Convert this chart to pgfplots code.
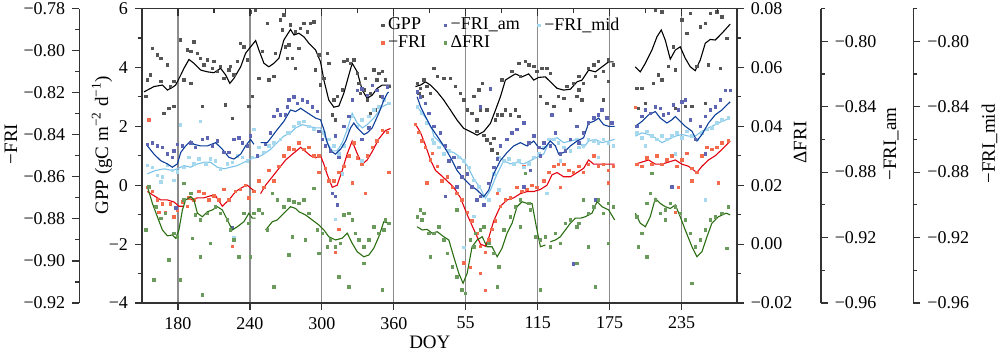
\documentclass[border=0pt]{standalone}
\usepackage{fontspec}
\setmainfont{Liberation Serif}
\usepackage{pgfplots}
\pgfplotsset{compat=1.18}
\definecolor{axc}{HTML}{333333}
\definecolor{gridc}{HTML}{8C8C8C}
\definecolor{gppdot}{HTML}{555555}
\definecolor{gppline}{HTML}{000000}
\definecolor{fridot}{HTML}{F26B4C}
\definecolor{friline}{HTML}{E3000F}
\definecolor{amdot}{HTML}{5E66B4}
\definecolor{amline}{HTML}{0D3E9A}
\definecolor{middot}{HTML}{A6D8EE}
\definecolor{midline}{HTML}{7CC3EA}
\definecolor{dfridot}{HTML}{6A9A5C}
\definecolor{dfriline}{HTML}{2A6E12}
\newcommand{\fs}{\fontsize{9}{10.5}\selectfont}
\newcommand{\fl}{\fontsize{9.5}{11}\selectfont}
\pgfplotsset{
  every axis/.append style={
    tick label style={font=\fs, color=black},
    label style={font=\fl},
    axis line style={color=axc, line width=0.8pt},
    every tick/.style={color=axc, line width=0.6pt},
    major tick length=3.5pt, minor tick length=2pt,
  },
  base/.style={width=297.35pt, height=147.25pt, scale only axis,
    xmin=150, xmax=646, at={(71pt,26pt)}, anchor=south west},
  dots/.style={only marks, mark=square*, mark size=0.62pt},
  lin/.style={line width=0.55pt, no marks, unbounded coords=jump},
  deco/.style={width=1pt, height=147.25pt, scale only axis, xmin=0, xmax=1,
    axis x line=none, tick align=outside},
}
\begin{document}
\begin{tikzpicture}
\path[use as bounding box] (0,0) rectangle (500pt,177.5pt);

% ---------- main GPP axis ----------
\begin{axis}[base,
  ymin=-4, ymax=6,
  axis x line*=bottom, axis y line*=left,
  tick align=outside,
  xtick={180,240,300,360,420,480,540,600},
  xticklabels={180,240,300,360,55,115,175,235},
  ytick={-4,-2,0,2,4,6}, yticklabels={−4,−2,0,2,4,6},
  minor ytick={-3,-1,1,3,5},
  xmajorgrids, major grid style={color=gridc, line width=0.6pt},
  xlabel={DOY},
  xlabel style={at={(axis description cs:0.484,-0.132)}, anchor=center},
  ylabel={GPP (gC m\textsuperscript{−2} d\textsuperscript{−1})},
  ylabel style={at={([xshift=-20pt]axis description cs:0,0.536)}, anchor=center},
  legend columns=3,
  legend cell align=left,
  legend style={at={(axis description cs:0.392,0.997)}, anchor=north west,
    draw=none, fill=none, font=\fs, row sep=-3pt,
    /tikz/every even column/.append style={column sep=7pt}},
  legend image code/.code={\draw[#1,only marks,mark=square*,mark size=0.62pt] plot coordinates {(0.06cm,0)};},
]
\addplot[dots, color=gppdot, forget plot] coordinates {
(153.1,3.01)(158.6,4.65)(162.8,4.42)(165.6,4.31)(154.5,3.57)(157.2,3.74)(165.6,3.52)(173.9,3.35)(171.1,4.08)(176.7,3.52)(176.7,2.67)(172.5,2.61)(168.3,2.44)(182.2,4.93)(187.8,4.59)(190.6,4.54)(193.3,4.87)(196.1,4.48)(198.9,4.31)(200.3,2.67)(185,3.57)(190.6,3.46)(201.7,4.08)(204.5,4.25)(208.6,3.97)(210,4.20)(212.8,3.86)(215.6,4.03)(218.3,3.63)(219.7,2.72)(222.5,3.91)(223.9,4.03)(226.7,3.74)(225.3,2.27)(229.4,4.20)(232.2,4.82)(235,4.70)(237.8,4.25)(239.2,2.67)(242,3.01)(240.6,5.89)(244.7,5.95)(247.5,3.63)(250.3,4.54)(254.5,5.50)(255.8,3.57)(260,3.69)(261.4,4.48)(265.6,5.61)(268.3,5.78)(269.7,4.70)(271.1,4.31)(267,5.27)
(273.9,5.44)(278.1,5.21)(282.2,5.33)(285,5.50)(287.8,5.21)(290.6,5.50)(293.4,5.55)(272.5,4.76)(280.9,4.65)(275.3,4.31)(278.1,3.97)(297.5,4.42)(294.8,3.91)(301.7,3.63)(304.5,4.48)(305.9,4.14)(298.9,3.40)(308.6,2.39)(310,2.89)(311.4,2.21)(312.8,3.01)(317,3.23)(318.4,4.20)(321.1,4.25)(323.9,4.14)(326.7,4.25)(329.5,3.80)(330.9,3.46)(332.3,3.12)(335,3.23)(336.4,3.63)(337.8,2.89)(340.6,3.12)(343.4,3.91)(346.1,3.57)(347.5,3.80)(350.3,3.86)(353.1,3.57)(355.9,3.35)(351.7,2.89)(340.6,2.44)(344.8,2.55)(348.9,3.01)
(379.5,3.46)(382.3,3.29)(385,3.57)(387.8,3.35)(383.6,3.01)(390.6,3.12)(380.9,3.12)
(393.4,3.97)(396.2,3.69)(401.7,3.63)(407.3,3.63)(411.4,3.35)(415.6,3.12)(418.4,2.89)(421.2,2.55)(425.3,2.44)(429.5,2.21)(432.3,2.55)(435,1.70)(437.8,1.54)(440.6,1.42)(443.4,1.59)(426.7,3.01)(430.9,3.23)(433.7,3.46)(437.8,2.55)(444.8,2.21)(446.2,2.38)(450.3,2.38)(453.1,2.55)(457.3,2.38)(461.4,2.55)(464.2,2.33)(450.3,3.57)(458.7,3.86)(464.2,4.14)(469.8,4.20)(472.5,4.08)(465.6,3.69)(476.7,4.03)(479.5,3.86)(483.7,3.97)(487.8,3.97)(490.6,3.80)(482.3,3.01)(487.8,2.78)(493.4,2.67)(497.5,3.01)(501.7,2.95)(504.5,3.35)(510,3.46)(512.8,3.01)(514.2,3.69)(507.3,2.55)(446.2,1.08)(442,1.20)(429.5,1.82)
(514.2,3.23)(518.3,3.46)(516.9,2.89)(522.5,3.97)(526.7,4.08)(530.8,4.20)(535,3.86)(539.2,4.25)(543.3,4.08)(539.2,3.52)(535,2.89)(528.1,3.69)
(562.8,3.29)(567,3.29)(564.2,2.61)(569.7,2.78)(576.7,3.46)(580.8,3.74)(583.6,3.57)(589.2,4.03)(594.7,3.91)(593.3,4.70)(600.3,5.61)(604.5,5.16)(607.2,5.84)(615.6,5.38)(619.7,5.50)(623.9,5.84)(629.5,5.89)(633.6,5.72)(637.8,4.99)(632.2,3.97)(622.5,4.08)(612.8,4.03)(608.6,2.67)(619.7,2.78)(628.1,2.67)(603.1,2.67)(594.7,2.61)(583.6,5.89)(578.1,5.95)
};
\addplot[lin, color=gppline, forget plot] coordinates {
(151.7,3.17)(160,3.35)(167,3.40)(171.2,3.23)(175.3,3.32)(178.1,3.40)(182.3,3.74)(185,3.97)(189.2,4.27)(193.3,4.14)(198.9,3.91)(204.5,3.85)(210,3.82)(215.6,3.97)(219.8,3.74)(223.3,3.46)(226.7,3.63)(232.3,4.02)(236.4,4.48)(240.6,4.70)(244.8,4.91)(247.5,4.59)(251.7,4.14)(255.8,4.02)(260,4.14)(264.2,4.31)(268.3,4.93)(273.9,5.29)(276.7,5.10)(280.8,5.16)(285,5.04)(289.2,4.82)(294.8,4.59)(298.9,4.19)(301.7,3.57)(305.8,2.89)(310,2.65)(314.2,2.69)(318.3,3.12)(322.5,3.74)(325.3,4.14)(329.5,3.85)(333.7,3.23)(337.8,2.95)(342,3.06)(346.2,3.29)(350.3,3.40)(357.3,3.40)
(367,nan)
(378.1,3.35)(382.3,3.40)(386.4,3.51)(390.6,3.40)(396.2,3.17)(401.7,2.89)(407.3,2.55)(412.8,2.21)(418.3,1.93)(423.9,1.82)(429.5,1.70)(435,1.82)(440.6,2.10)(444.8,2.55)(448.9,3.00)(453.1,3.57)(457.3,3.68)(461.4,3.78)(467,3.68)(472.5,3.78)(476.7,3.57)(480.8,3.66)(486.4,3.68)(490.6,3.51)(496.2,3.29)(501.7,3.23)(507.3,3.26)(512.8,3.51)(517,3.57)(522.5,3.91)(528.1,3.85)(533.7,4.02)(539.2,4.19)(543.3,4.19)
(552,nan)
(561.4,4.02)(565.6,3.85)(569.8,4.14)(575.3,4.59)(579.5,5.04)(583.1,5.27)(586.4,4.93)(590.6,4.28)(594.8,4.59)(598.9,4.70)(603.1,4.31)(607.3,4.02)(611.4,3.89)(615.6,4.25)(619.8,4.82)(623.9,4.95)(628.1,4.93)(633.7,5.16)(640.6,5.47)
};
\addlegendimage{color=gppdot}\addlegendentry{GPP}
\addlegendimage{color=amdot}\addlegendentry{−FRI\_am}
\addlegendimage{color=middot}\addlegendentry{−FRI\_mid}
\addlegendimage{color=fridot}\addlegendentry{−FRI}
\addlegendimage{color=dfridot}\addlegendentry{ΔFRI}
\end{axis}

% ---------- -FRI data (left outer axis scale) ----------
\begin{axis}[base, hide axis, ymin=-0.92, ymax=-0.78]
\addplot[dots, color=fridot] coordinates {
(155.8,-0.833)(154.5,-0.865)(158.6,-0.867)(162.8,-0.871)(167,-0.873)(169.7,-0.877)(173.9,-0.873)(176.7,-0.879)(179.5,-0.876)(183.6,-0.872)(189.2,-0.870)(193.3,-0.871)(197.5,-0.867)(201.7,-0.868)(205.8,-0.871)(210,-0.869)(214.2,-0.871)(218.3,-0.866)(222.5,-0.871)(225.3,-0.893)(228.1,-0.867)(232.2,-0.866)(236.4,-0.864)(239.2,-0.870)(243.3,-0.867)(247.5,-0.862)(251.7,-0.865)(255.8,-0.857)(260,-0.862)(264.2,-0.855)(268.3,-0.850)(272.5,-0.847)(164.2,-0.877)(187.8,-0.874)
(272.5,-0.846)(276.7,-0.847)(280.9,-0.844)(285,-0.847)(289.2,-0.846)(293.4,-0.850)(297.5,-0.850)(297.5,-0.858)(303.1,-0.856)(305.9,-0.862)(310,-0.862)(314.2,-0.858)(318.4,-0.855)(322.5,-0.850)(326.7,-0.844)(329.5,-0.851)(333.6,-0.854)(337.8,-0.850)(342,-0.846)(346.1,-0.843)(350.3,-0.838)(354.5,-0.839)(355.9,-0.858)(336.4,-0.868)(311.4,-0.896)(314.2,-0.885)(325.3,-0.863)
(378.1,-0.835)(380.9,-0.839)(383.6,-0.843)(386.4,-0.846)(390.6,-0.852)(387.8,-0.863)
(392,-0.849)(396.2,-0.855)(400.3,-0.862)(404.5,-0.860)(408.7,-0.865)(412.8,-0.868)(417,-0.871)(421.2,-0.877)(425.3,-0.881)(429.5,-0.887)(432.3,-0.893)(436.4,-0.896)(439.2,-0.890)(442,-0.885)(444.8,-0.881)(448.9,-0.874)(453.1,-0.871)(457.3,-0.870)(462.8,-0.865)(467,-0.867)(471.2,-0.866)(475.3,-0.864)(479.5,-0.865)(485,-0.862)(489.2,-0.858)(493.4,-0.855)(497.5,-0.854)(501.7,-0.854)(505.9,-0.857)(510,-0.858)(514.2,-0.855)(418.4,-0.901)(423.9,-0.903)(432.3,-0.906)(436.4,-0.914)(446.2,-0.868)(468.4,-0.855)(498.9,-0.865)
(514.2,-0.855)(518.3,-0.858)(522.5,-0.854)(526.7,-0.850)(530.8,-0.855)(535,-0.854)(539.2,-0.857)(543.3,-0.855)(539.2,-0.863)(561.4,-0.827)(562.8,-0.854)(567,-0.855)(571.1,-0.851)(575.3,-0.854)(579.5,-0.850)(583.6,-0.854)(587.8,-0.852)(592,-0.850)(596.1,-0.855)(600.3,-0.852)(604.5,-0.849)(608.6,-0.856)(612.8,-0.858)(617,-0.850)(621.1,-0.846)(625.3,-0.847)(629.5,-0.846)(633.6,-0.844)(639.2,-0.843)(597.5,-0.865)(608.6,-0.862)(630.8,-0.863)(594.7,-0.877)
};
\addplot[lin, color=friline] coordinates {
(154.5,-0.867)(160,-0.869)(165.6,-0.871)(171.2,-0.871)(176.7,-0.872)(180.8,-0.874)(185,-0.874)(187.5,nan)(190.6,-0.871)(196.2,-0.870)(201.7,-0.870)(207.3,-0.869)(211.4,-0.869)(217,-0.874)(222.5,-0.871)(228.1,-0.867)(233.7,-0.865)(237.8,-0.864)(242,-0.866)(244.8,-0.867)(246.5,nan)(248.9,-0.868)(253.1,-0.864)(258.7,-0.860)(264.2,-0.856)(269.8,-0.852)(273.9,-0.850)(278.1,-0.848)(282.3,-0.846)(286.4,-0.848)(290.6,-0.850)(294.8,-0.851)(298.9,-0.850)(301.7,-0.854)(304.5,-0.859)(308.7,-0.865)(312.8,-0.864)(317,-0.857)(321.2,-0.849)(325.3,-0.843)(329.5,-0.849)(333.7,-0.854)(337.8,-0.852)(342,-0.848)(347.5,-0.842)(353.1,-0.838)(357.3,-0.837)
(367,nan)
(378.1,-0.835)(382.3,-0.839)(386.4,-0.845)(390.6,-0.852)(394.8,-0.857)(398.9,-0.859)(404.5,-0.862)(410,-0.865)(415.6,-0.870)(421.2,-0.878)(426.7,-0.885)(432.3,-0.892)(436.4,-0.893)(439.2,-0.889)(443.3,-0.881)(448.9,-0.874)(454.5,-0.871)(460,-0.870)(465.6,-0.868)(471.2,-0.867)(476.7,-0.867)(482.3,-0.866)(487.8,-0.864)(492,-0.859)(496.2,-0.858)(501.7,-0.860)(507.3,-0.860)(512.8,-0.858)(518.3,-0.856)(522.5,-0.852)(526.7,-0.854)(530.8,-0.854)(536.4,-0.854)(544.2,-0.854)
(552,nan)
(561.4,-0.854)(567,-0.853)(572.5,-0.852)(578.1,-0.854)(583.7,-0.854)(589.2,-0.853)(594.8,-0.852)(600.3,-0.854)(605.8,-0.855)(612.8,-0.858)(617,-0.855)(622.5,-0.852)(628.1,-0.850)(633.7,-0.847)(640.6,-0.843)
};
\end{axis}

% ---------- -FRI_mid data ----------
\begin{axis}[base, hide axis, ymin=-0.96, ymax=-0.78]
\addplot[dots, color=middot] coordinates {
(154.5,-0.876)(158.6,-0.877)(162.8,-0.882)(167,-0.883)(171.1,-0.876)(175.3,-0.879)(179.5,-0.880)(182.2,-0.851)(185,-0.877)(189.2,-0.871)(193.3,-0.875)(197.5,-0.872)(198.9,-0.849)(203.1,-0.875)(207.2,-0.872)(211.4,-0.873)(215.6,-0.878)(221.1,-0.875)(225.3,-0.874)(226.7,-0.920)(229.4,-0.870)(233.6,-0.871)(237.8,-0.873)(242,-0.871)(243.3,-0.854)(247.5,-0.865)(251.7,-0.868)(255.8,-0.864)(260,-0.862)(265.6,-0.860)(271.1,-0.856)(165.6,-0.886)(176.7,-0.885)
(272.5,-0.856)(276.7,-0.852)(280.9,-0.850)(285,-0.849)(289.2,-0.852)(293.4,-0.854)(297.5,-0.855)(301.7,-0.856)(305.9,-0.860)(310,-0.864)(314.2,-0.869)(318.4,-0.864)(321.1,-0.854)(325.3,-0.846)(329.5,-0.852)(333.6,-0.848)(339.2,-0.846)(343.4,-0.842)(347.5,-0.840)(351.7,-0.836)(355.9,-0.838)(311.4,-0.909)(317,-0.881)(333.6,-0.873)
(379.5,-0.840)(383.6,-0.844)(387.8,-0.850)(392,-0.860)
(393.4,-0.862)(397.5,-0.865)(401.7,-0.869)(405.9,-0.867)(410,-0.871)(414.2,-0.871)(418.4,-0.873)(422.5,-0.877)(426.7,-0.885)(430.9,-0.889)(435,-0.895)(439.2,-0.897)(443.4,-0.881)(447.5,-0.871)(451.7,-0.873)(455.9,-0.872)(460,-0.875)(464.2,-0.873)(468.4,-0.877)(472.5,-0.875)(476.7,-0.871)(480.9,-0.869)(485,-0.865)(489.2,-0.860)(493.4,-0.860)(497.5,-0.862)(501.7,-0.865)(507.3,-0.867)(512.8,-0.860)(418.4,-0.926)(426.7,-0.907)(447.5,-0.891)(487.8,-0.893)(498.9,-0.873)
(514.2,-0.865)(518.3,-0.864)(522.5,-0.860)(526.7,-0.861)(530.8,-0.862)(535,-0.860)(539.2,-0.862)(543.3,-0.864)(530.8,-0.871)(562.8,-0.856)(567,-0.859)(571.1,-0.855)(575.3,-0.858)(579.5,-0.860)(583.6,-0.858)(587.8,-0.860)(592,-0.858)(596.1,-0.856)(600.3,-0.859)(604.5,-0.855)(608.6,-0.858)(612.8,-0.860)(617,-0.856)(621.1,-0.854)(625.3,-0.853)(629.5,-0.850)(633.6,-0.848)(639.2,-0.847)(569.7,-0.864)(594.7,-0.869)(619.7,-0.897)
};
\addplot[lin, color=midline] coordinates {
(154.5,-0.881)(161.4,-0.879)(168.3,-0.878)(175.3,-0.879)(179.5,-0.878)(185,-0.876)(190.6,-0.877)(196.2,-0.875)(201.7,-0.874)(207.3,-0.874)(212.8,-0.877)(218.3,-0.878)(223.9,-0.877)(229.5,-0.876)(235,-0.874)(240.6,-0.872)(246.2,-0.871)(251.7,-0.869)(257.3,-0.866)(262.8,-0.862)(268.3,-0.858)(273.9,-0.856)(278.1,-0.853)(283.7,-0.851)(289.2,-0.852)(294.8,-0.853)(298.9,-0.853)(301.7,-0.857)(304.5,-0.862)(308.7,-0.867)(312.8,-0.867)(317,-0.862)(321.2,-0.854)(325.3,-0.844)(329.5,-0.850)(333.7,-0.853)(337.8,-0.851)(343.3,-0.847)(350.3,-0.840)(355.8,-0.838)
(367,nan)
(379.5,-0.840)(383.7,-0.844)(387.8,-0.848)(392,-0.854)(393.3,-0.858)(398.9,-0.862)(404.5,-0.867)(410,-0.868)(415.6,-0.871)(421.2,-0.876)(426.7,-0.884)(432.3,-0.890)(436.4,-0.896)(440.6,-0.891)(446.2,-0.881)(451.7,-0.873)(457.3,-0.875)(462.8,-0.874)(468.3,-0.875)(473.9,-0.873)(479.5,-0.871)(485,-0.869)(490.6,-0.860)(496.2,-0.859)(501.7,-0.862)(507.3,-0.861)(512.8,-0.860)(518.3,-0.865)(522.5,-0.861)(528.1,-0.860)(533.7,-0.862)(539.2,-0.861)(544.2,-0.860)
(552,nan)
(561.4,-0.858)(567,-0.856)(572.5,-0.857)(578.1,-0.859)(583.7,-0.862)(589.2,-0.860)(594.8,-0.858)(600.3,-0.857)(605.8,-0.858)(611.4,-0.858)(617,-0.855)(622.5,-0.853)(628.1,-0.851)(633.7,-0.849)(640.6,-0.847)
};
\end{axis}

% ---------- -FRI_am data ----------
\begin{axis}[base, hide axis, ymin=-0.96, ymax=-0.78]
\addplot[dots, color=amdot] coordinates {
(154.5,-0.863)(158.6,-0.862)(162.8,-0.864)(167,-0.865)(171.1,-0.869)(175.3,-0.871)(176.7,-0.867)(179.5,-0.863)(183.6,-0.864)(190.6,-0.862)(194.7,-0.865)(200.3,-0.860)(204.5,-0.859)(208.6,-0.864)(212.8,-0.861)(218.3,-0.868)(222.5,-0.868)(226.7,-0.860)(230.8,-0.859)(233.6,-0.862)(237.8,-0.864)(240.6,-0.858)(246.1,-0.870)(253.1,-0.863)(257.2,-0.856)(260,-0.846)(262.8,-0.842)(265.6,-0.845)(269.7,-0.845)(271.1,-0.840)(178.1,-0.902)(225.3,-0.914)
(272.5,-0.836)(276.7,-0.834)(279.5,-0.838)(283.6,-0.836)(287.8,-0.837)(292,-0.840)(296.1,-0.843)(297.5,-0.855)(300.3,-0.860)(303.1,-0.864)(307.25,-0.867)(311.4,-0.858)(314.2,-0.871)(318.4,-0.852)(322.5,-0.846)(325.3,-0.836)(329.5,-0.830)(333.6,-0.829)(337.8,-0.833)(342,-0.827)(346.1,-0.830)(350.3,-0.834)(354.5,-0.828)(333.6,-0.860)(339.2,-0.853)(308.6,-0.893)(312.8,-0.900)(311.4,-0.895)
(379.5,-0.831)(382.3,-0.834)(386.4,-0.838)(389.2,-0.844)
(393.4,-0.852)(398.9,-0.856)(403.1,-0.864)(405.9,-0.873)(410,-0.871)(414.2,-0.877)(417,-0.883)(421.2,-0.881)(425.3,-0.889)(429.5,-0.897)(432.3,-0.895)(435,-0.900)(439.2,-0.887)(443.4,-0.877)(446.2,-0.872)(448.9,-0.864)(454.5,-0.860)(458.7,-0.856)(462.8,-0.854)(468.4,-0.850)(472.5,-0.862)(476.7,-0.858)(480.9,-0.865)(485,-0.862)(490.6,-0.864)(494.8,-0.856)(498.9,-0.869)(503.1,-0.867)(507.3,-0.860)(512.8,-0.852)(432.3,-0.840)(440.6,-0.829)(468.4,-0.889)(473.9,-0.879)(482.3,-0.870)(403.1,-0.895)(412.8,-0.889)(492,-0.845)(507.3,-0.909)(510,-0.936)
(514.2,-0.862)(518.3,-0.856)(522.5,-0.850)(526.7,-0.847)(530.8,-0.845)(533.6,-0.842)(537.8,-0.847)(542,-0.850)(528.1,-0.897)(562.8,-0.852)(567,-0.846)(569.7,-0.842)(573.9,-0.844)(578.1,-0.840)(582.2,-0.841)(585,-0.845)(589.2,-0.844)(593.3,-0.839)(597.5,-0.842)(600.3,-0.837)(603.1,-0.836)(607.2,-0.848)(611.4,-0.860)(615.6,-0.852)(619.7,-0.846)(623.9,-0.842)(628.1,-0.840)(632.2,-0.836)(636.4,-0.830)(640.6,-0.830)(619.7,-0.869)(592,-0.889)
};
\addplot[lin, color=amline] coordinates {
(154.5,-0.864)(160,-0.869)(165.6,-0.873)(171.2,-0.875)(175.3,-0.877)(179.5,-0.875)(182.3,-0.868)(186.4,-0.864)(190.6,-0.861)(193.3,-0.863)(198.9,-0.864)(204.5,-0.864)(211.4,-0.862)(217,-0.866)(222.5,-0.871)(226.7,-0.872)(232.3,-0.869)(236.4,-0.864)(240.6,-0.860)(243.3,-0.863)
(246,nan)
(248.9,-0.862)(254.5,-0.862)(258.7,-0.858)(262.8,-0.854)(268.3,-0.849)(273.9,-0.842)(278.1,-0.843)(282.3,-0.841)(286.4,-0.843)(290.6,-0.845)(294.8,-0.847)(298.9,-0.848)(301.7,-0.854)(304.5,-0.862)(307.3,-0.867)(311.4,-0.869)(315.6,-0.866)(319.8,-0.861)(323.9,-0.853)(326.7,-0.850)(329.5,-0.853)(332.3,-0.855)(335,-0.857)(337.8,-0.856)(342,-0.853)(347.5,-0.844)(351.7,-0.836)(354.5,-0.832)(355.6,-0.831)
(367,nan)
(379.5,-0.834)(382.3,-0.840)(386.4,-0.846)(390.6,-0.852)(396.2,-0.858)(401.7,-0.864)(407.3,-0.871)(412.8,-0.879)(418.3,-0.884)(423.9,-0.888)(429.5,-0.891)(435,-0.895)(439.2,-0.891)(443.3,-0.881)(448.9,-0.873)(454.5,-0.868)(460,-0.864)(465.6,-0.862)(471.2,-0.864)(476.7,-0.861)(480.8,-0.865)(485,-0.866)(490.6,-0.861)(494.8,-0.864)(497.5,-0.869)(501.7,-0.868)(507.3,-0.864)(512.8,-0.861)(518.3,-0.859)(522.5,-0.850)(526.7,-0.849)(530.8,-0.847)(535,-0.851)(539.2,-0.852)(544.2,-0.852)
(552,nan)
(561.4,-0.852)(567,-0.849)(572.5,-0.845)(578.1,-0.843)(582.3,-0.847)(587.8,-0.850)(592,-0.848)(594.8,-0.846)(598.9,-0.849)(603.1,-0.852)(608.7,-0.855)(612.8,-0.861)(617,-0.857)(622.5,-0.850)(628.1,-0.845)(633.7,-0.842)(640.6,-0.837)
};
\end{axis}

% ---------- Delta FRI axis (right) with data ----------
\begin{axis}[base, ymin=-0.02, ymax=0.08,
  axis y line*=right, axis x line=none, tick align=outside,
  ytick={-0.02,0,0.02,0.04,0.06,0.08},
  yticklabels={−0.02,0.00,0.02,0.04,0.06,0.08},
  minor ytick={-0.01,0.01,0.03,0.05,0.07},
  ylabel={ΔFRI},
  ylabel style={at={([xshift=31.65pt]axis description cs:1,0.545)}, anchor=center},
]
\addplot[dots, color=dfridot] coordinates {
(153.1,0.0048)(155.8,0.0195)(160,-0.0122)(161.4,0.0127)(165.6,0.0088)(169.7,0.0105)(172.5,-0.0054)(176.7,0.0037)(179.5,0.0025)(182.2,-0.0122)(185,0.0150)(190.6,0.0172)(192,0.0020)(194.7,0.0099)(198.9,0.0082)(200.3,-0.0173)(204.5,0.0105)(207.2,0.0003)(211.4,0.0127)(215.6,0.0105)(221.1,0.0082)(223.9,0.0048)(226.7,0.0014)(230.8,-0.0043)(235,0.0105)(239.2,0.0071)(240.6,-0.0043)(243.3,0.0105)(247.5,0.0116)(250.3,0.0105)(254.5,0.0048)(258.6,0.0172)(260,-0.0145)(262.8,0.0150)(268.3,0.0127)(272.5,-0.0037)(198.9,-0.0043)(185,0.0206)
(272.5,0.0150)(276.7,0.0144)(280.9,0.0138)(285,0.0150)(289.2,0.0105)(293.4,0.0189)(296.1,0.0048)(297.5,-0.0031)(300.3,0.0037)(304.5,-0.0009)(307.25,0.0014)(311.4,-0.0009)(315.6,0.0003)(318.4,0.0099)(322.5,0.0105)(325.3,0.0082)(328.1,0.0037)(330.9,0.0014)(335,-0.0009)(339.2,0.0014)(343.4,0.0059)(347.5,0.0037)(351.7,0.0048)(353.1,0.0082)(355.9,0.0071)(314.2,-0.0111)(322.5,-0.0145)(335,-0.0065)(350.3,-0.0156)(275.3,0.0025)(286.4,0.0014)
(379.5,0.0093)(382.2,0.0116)(385,0.0105)(389.2,0.0037)(383.6,0.0082)(390.6,-0.0043)
(393.4,0.0037)(397.5,0.0059)(401.7,0.0014)(404.5,-0.0031)(408.7,-0.0077)(412.8,-0.0111)(417,-0.0156)(419.8,-0.0167)(423.9,0.0014)(428.1,0.0037)(432.3,0.0048)(435,0.0059)(439.2,0.0003)(443.4,-0.0031)(447.5,-0.0077)(451.7,0.0048)(457.3,0.0093)(461.4,0.0127)(465.6,0.0150)(469.8,0.0240)(472.5,0.0138)(473.9,0.0116)(478.1,0.0025)(482.3,0.0014)(486.4,0.0025)(490.6,-0.0009)(494.8,0.0037)(498.9,0.0003)(503.1,0.0071)(507.3,0.0082)(512.8,0.0059)(412.8,0.0116)(426.7,-0.0009)(446.2,-0.0145)(465.6,0.0059)(482.3,-0.0156)(512.8,-0.0065)
(514.2,0.0071)(518.3,0.0150)(522.5,0.0105)(526.7,0.0127)(530.8,0.0150)(535,0.0105)(539.2,0.0138)(543.3,0.0127)(522.5,-0.0009)(539.2,0.0003)(528.1,-0.0145)(562.8,0.0093)(564.2,-0.0009)(567,0.0037)(571.1,0.0138)(573.9,0.0172)(578.1,0.0150)(582.2,0.0105)(586.4,0.0116)(590.6,0.0138)(594.7,0.0127)(598.9,0.0105)(603.1,0.0082)(607.2,0.0037)(611.4,-0.0009)(615.6,0.0014)(619.7,0.0048)(623.9,0.0082)(628.1,0.0093)(633.6,0.0105)(639.2,0.0127)(575.3,0.0240)(586.4,0.0082)(608.6,-0.0133)(637.8,-0.0014)(571.1,-0.0043)
};
\addplot[lin, color=dfriline] coordinates {
(154.5,0.0195)(158.7,0.0138)(162.8,0.0093)(167,0.0048)(171.2,0.0028)(175.3,0.0031)(178.1,0.0020)(180.8,0.0048)(183.7,0.0116)(186.4,0.0150)(190.6,0.0161)(193.3,0.0150)(196.2,0.0105)(200.3,0.0093)(204.5,0.0110)(208.7,0.0116)(212.8,0.0127)(217,0.0116)(221.2,0.0082)(225.3,0.0048)(229.5,0.0059)(235,0.0076)(239.2,0.0105)(242,0.0088)(244.8,0.0088)
(249,nan)
(253.1,0.0048)(258.7,0.0076)(262.8,0.0082)(268.3,0.0105)(273.9,0.0127)(278.1,0.0121)(280.8,0.0110)(286.4,0.0099)(292,0.0082)(297.5,0.0065)(301.7,0.0048)(305.8,0.0025)(311.4,0.0014)(317,0.0020)(321.2,0.0037)(325.3,0.0003)(329.5,-0.0026)(335,-0.0043)(339.2,-0.0037)(343.3,-0.0014)(347.5,0.0025)(351.7,0.0076)(355.8,0.0071)
(367,nan)
(379.5,0.0059)(383.7,0.0048)(387.8,0.0050)(392,0.0037)(396.2,0.0042)(401.7,0.0025)(405.9,0.0014)(410,-0.0043)(414.2,-0.0099)(417.8,-0.0133)(421.2,-0.0099)(425.3,-0.0009)(429.5,0.0014)(433.7,0.0025)(437.8,-0.0009)(442,-0.0009)(446.2,-0.0043)(450.3,-0.0014)(454.5,0.0037)(458.7,0.0071)(462.8,0.0127)(467,0.0144)(471.2,0.0138)(475.3,0.0138)(478.9,0.0059)(482.3,-0.0009)(486.4,-0.0003)
(488.5,nan)
(490.6,0.0008)(494.8,0.0014)(498.9,0.0025)(503.1,0.0048)(507.3,0.0071)(511.4,0.0088)(515.6,0.0088)(519.8,0.0093)(525.3,0.0105)(529.5,0.0144)(533.7,0.0127)(539.2,0.0116)(544.2,0.0082)
(552,nan)
(561.4,0.0105)(565.6,0.0071)(569.8,0.0059)(573.9,0.0093)(578.1,0.0155)(582.3,0.0138)(586.4,0.0127)(590.6,0.0121)(594.8,0.0133)(598.9,0.0093)(603.1,0.0048)(608.7,-0.0009)(612.8,-0.0043)(617,-0.0026)(621.2,0.0025)(625.3,0.0071)(630.8,0.0093)(637.3,0.0105)(640.6,0.0099)
};
\end{axis}

% ---------- top frame with inward ticks ----------
\begin{axis}[base, ymin=0, ymax=1,
  axis x line*=top, axis y line=none, tick align=inside,
  xtick={180,240,300,360,420,480,540,600}, xticklabel=\empty,
  minor xtick={210,270,330,390,450,510,570,630}]
\end{axis}
% ---------- bottom minor ticks inward ----------
\begin{axis}[base, ymin=0, ymax=1,
  axis x line*=bottom, axis y line=none, tick align=inside,
  xtick=\empty, minor xtick={210,270,330,390,450,510,570,630}]
\end{axis}

% ---------- outer left axis: -FRI ----------
\begin{axis}[deco, at={(39.65pt,26pt)}, anchor=south west,
  ymin=-0.92, ymax=-0.78, axis y line*=left,
  ytick={-0.92,-0.90,-0.88,-0.86,-0.84,-0.82,-0.80,-0.78},
  yticklabels={−0.92,−0.90,−0.88,−0.86,−0.84,−0.82,−0.80,−0.78},
  minor ytick={-0.91,-0.89,-0.87,-0.85,-0.83,-0.81,-0.79},
  ylabel={−FRI},
  ylabel style={at={([xshift=-34.15pt]axis description cs:0,0.54)}, anchor=center}]
\end{axis}

% ---------- outer right axis: -FRI_am ----------
\begin{axis}[deco, at={(410.35pt,26pt)}, anchor=south east,
  ymin=-0.96, ymax=-0.78, axis y line*=right,
  ytick={-0.96,-0.92,-0.88,-0.84,-0.80},
  yticklabels={−0.96,−0.92,−0.88,−0.84,−0.80},
  minor ytick={-0.94,-0.90,-0.86,-0.82,-0.78},
  ylabel={−FRI\_am},
  ylabel style={at={([xshift=35.15pt]axis description cs:1,0.54)}, anchor=center}]
\end{axis}

% ---------- outer right axis: -FRI_mid ----------
\begin{axis}[deco, at={(456.65pt,26pt)}, anchor=south east,
  ymin=-0.96, ymax=-0.78, axis y line*=right,
  ytick={-0.96,-0.92,-0.88,-0.84,-0.80},
  yticklabels={−0.96,−0.92,−0.88,−0.84,−0.80},
  minor ytick={-0.94,-0.90,-0.86,-0.82,-0.78},
  ylabel={−FRI\_mid},
  ylabel style={at={([xshift=38.1pt]axis description cs:1,0.54)}, anchor=center}]
\end{axis}
\end{tikzpicture}
\end{document}
